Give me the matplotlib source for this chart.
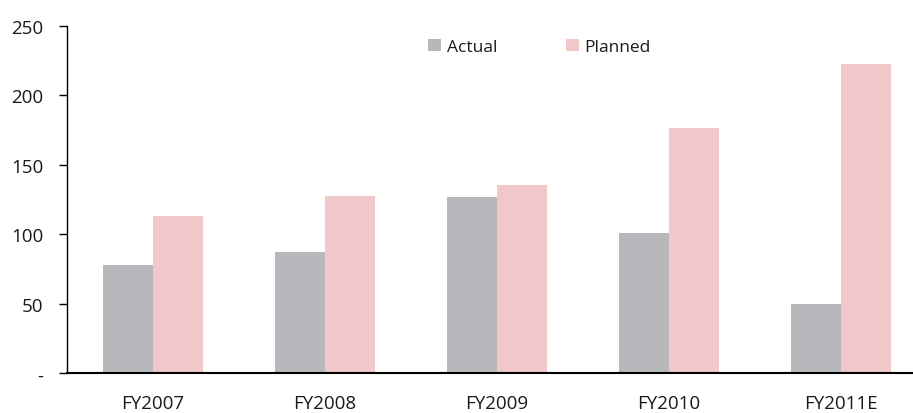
import matplotlib.pyplot as plt
import numpy as np

years = ["FY2007", "FY2008", "FY2009", "FY2010", "FY2011E"]
actual = [78, 87, 127, 101, 50]
planned = [113, 127.5, 135.5, 176.5, 222.5]
yticks = [0, 50, 100, 150, 200, 250]
ylabels = ["-", "50", "100", "150", "200", "250"]

plt.rcParams['font.family'] = ['Open Sans', 'DejaVu Sans']

fig = plt.figure(figsize=(9.13, 4.14), dpi=100)
ax = fig.add_axes([67 / 913, 0.0959, 1 - 67 / 913, 0.8396])

x = np.arange(len(years))
w = 0.29
ax.bar(x - w / 2, actual, w, color="#b7b8bc", label="Actual")
ax.bar(x + w / 2, planned, w, color="#f0c8c9", label="Planned")

ax.set_xlim(-0.5, 4.42)
ax.set_ylim(0, 250)
ax.set_xticks(x)
ax.set_xticklabels(years, fontsize=13.5, color="#1a1a1a")
ax.set_yticks(yticks)
ax.set_yticklabels(ylabels, fontsize=13.5, color="#1a1a1a")
ax.tick_params(axis="x", length=0, pad=15)
ax.tick_params(axis="y", length=6, width=1, pad=11)

for s in ["top", "right"]:
    ax.spines[s].set_visible(False)
ax.spines["left"].set_linewidth(1)
ax.spines["bottom"].set_linewidth(1.5)

ax.legend(ncol=2, frameon=False, loc="center left", bbox_to_anchor=(0.427, 0.939),
          fontsize=12.5, handlelength=0.75, handleheight=0.75, handletextpad=0.35,
          columnspacing=3.9, borderaxespad=0, borderpad=0, labelcolor="#1a1a1a")

fig.savefig("out.png", dpi=100)
